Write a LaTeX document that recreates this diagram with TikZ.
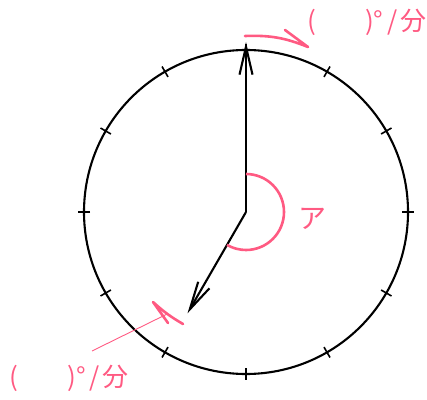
\documentclass[tikz,border=0pt]{standalone}
\usepackage{fontspec}
\newfontfamily\jpfont{Noto Sans CJK JP}
\usetikzlibrary{arrows.meta,calc}
\definecolor{pinkc}{HTML}{FF5A82}
\begin{document}
\begin{tikzpicture}[x=1pt,y=1pt,
  clockline/.style={line width=2.1pt,black},
  hand/.style={line width=2.1pt,black,-{Straight Barb[length=28pt,width=13pt,line width=2.1pt]}},
  tickmark/.style={line width=1.6pt,black},
  pinkarc/.style={line width=2.6pt,pinkc},
  harp/.style={line width=2.6pt,pinkc,line cap=round,line join=round},
  leader/.style={line width=0.9pt,pinkc},
  plabel/.style={text=pinkc,font=\jpfont\fontsize{26}{26}\selectfont,inner sep=0pt}]
\useasboundingbox (0,0) rectangle (427,399);
\coordinate (c) at (246,187);
\draw[clockline] (c) circle[radius=162];
\foreach \a in {0,30,...,330}
  \draw[tickmark] ($(c)+(\a:156)$) -- ($(c)+(\a:168)$);
\coordinate (mt) at (246,357);
\coordinate (ht) at ($(c)+(240:117)$);
\draw[hand] (c) -- (mt);
\draw[hand] (c) -- (ht);
\draw[pinkarc] ($(c)+(90:38)$) arc[start angle=90,end angle=-120,radius=38];
\node[plabel,font=\jpfont\fontsize{28}{28}\selectfont] (a) at (312,180) {ア};
% top harpoon
\coordinate (t1) at (245,363);
\coordinate (t2) at (308,352);
\coordinate (t3) at (285,369);
\draw[harp] (t1) to[bend left=12] (t2) -- (t3);
% bottom harpoon
\coordinate (b1) at (183,75);
\coordinate (b2) at (153,97);
\coordinate (b3) at (168,76);
\draw[harp] (b1) to[bend left=6] coordinate[pos=0.5] (bm) (b2) -- (b3);
\coordinate (lf) at (92,48);
\draw[leader] (lf) -- (bm);
\node[plabel,anchor=east] (top) at (426.5,377) {(\hspace{1.9em})°\hspace{0.15em}/\hspace{0.1em}分};
\node[plabel,anchor=west] (bot) at (9,21) {(\hspace{1.9em})°\hspace{0.15em}/\hspace{0.1em}分};
\end{tikzpicture}
\end{document}
